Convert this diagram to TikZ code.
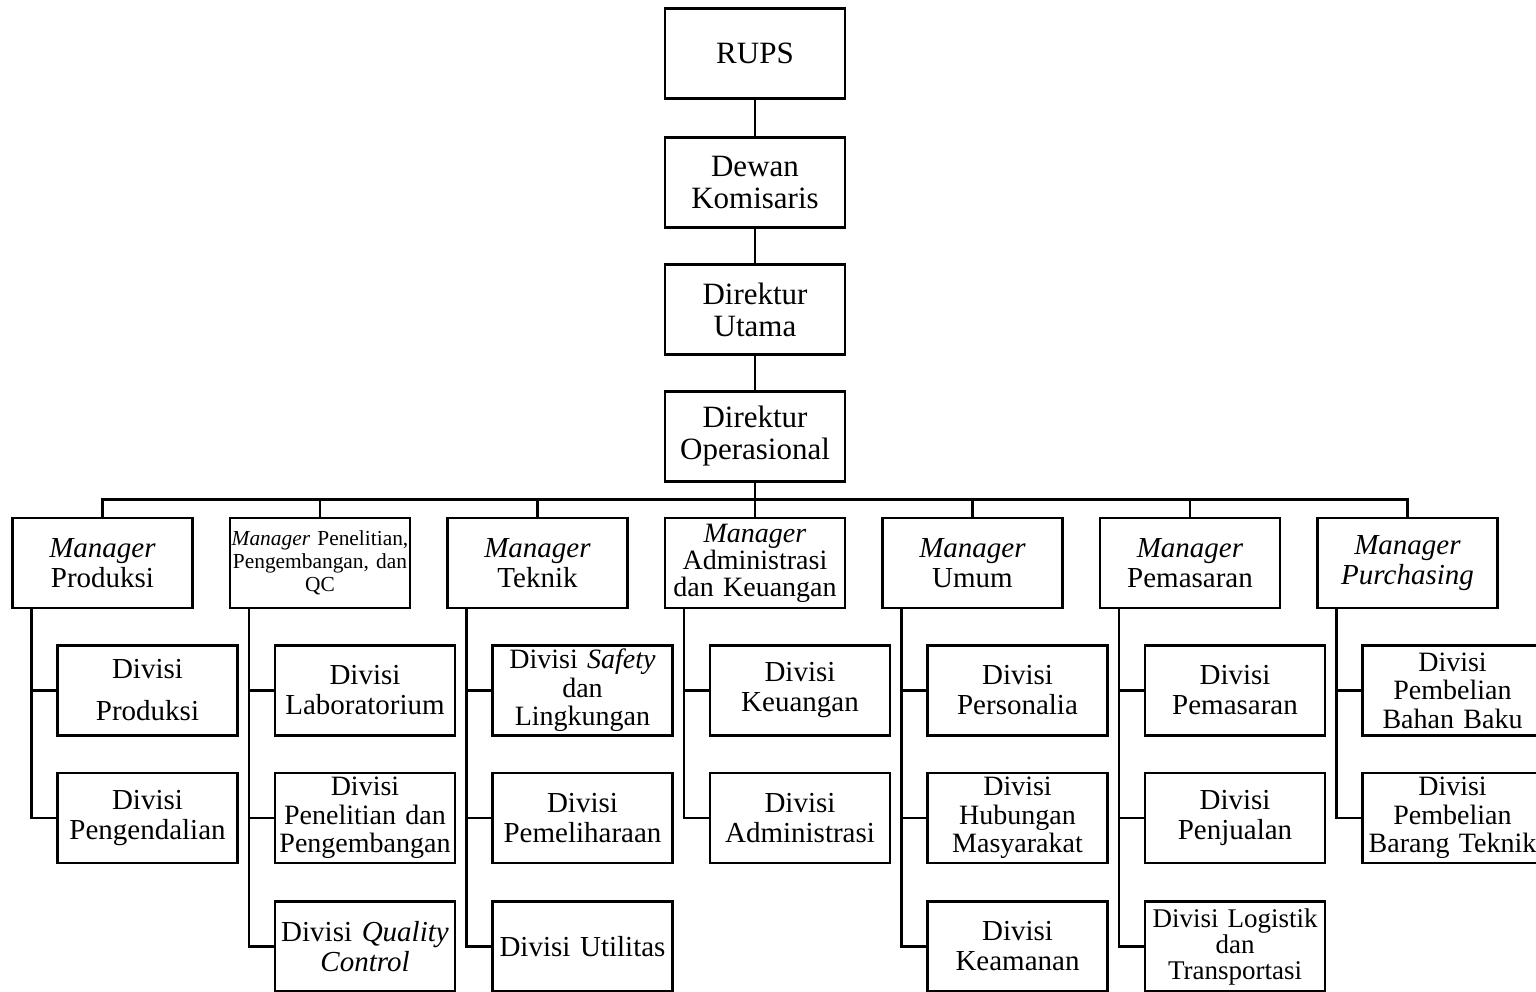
\documentclass[tikz,border=0pt]{standalone}
\usepackage{fontspec}
\setmainfont{Liberation Serif}
\usetikzlibrary{positioning}

\begin{document}
\begin{tikzpicture}[
    x=0.5pt, y=0.5pt,
    font=\fontsize{14.5}{15}\selectfont,
    bx/.style={draw, line width=1.4pt, minimum width=90pt, minimum height=45pt,
               text width=86pt, align=center, inner sep=1pt, outer sep=0pt},
    tp/.style={bx, font=\fontsize{15.5}{16}\selectfont},
    tri/.style={bx, font=\fontsize{14}{14.2}\selectfont},
    ln/.style={line width=1.4pt},
  ]
    \useasboundingbox (0,0) rectangle (1536,-991);

    % pimpinan
    \node[tp] (rups) at (755,-53.5) {RUPS};
    \node[tp, below=19.5pt of rups] (kom) {Dewan\\Komisaris};
    \node[tp, below=18.5pt of kom] (dirut) {Direktur\\Utama};
    \node[tp, below=18.5pt of dirut] (dirop) {Direktur\\Operasional};
    \draw[ln] (rups) -- (kom);
    \draw[ln] (kom) -- (dirut);
    \draw[ln] (dirut) -- (dirop);

    % manager
    \node[bx, below=18.25pt of dirop, font=\fontsize{14}{13.5}\selectfont] (mAdm) {\textit{Manager}\\Administrasi\\dan Keuangan};
    \node[bx, left=18.75pt of mAdm] (mTek) {\textit{Manager}\\Teknik};
    \node[bx, left=18.75pt of mTek, font=\fontsize{10.7}{11.5}\selectfont, text width=89pt, inner xsep=0pt] (mLit) {\textit{Manager} Penelitian,\\Pengembangan, dan\\QC};
    \node[bx, left=18.75pt of mLit] (mProd) {\textit{Manager}\\Produksi};
    \node[bx, right=18.75pt of mAdm] (mUmum) {\textit{Manager}\\Umum};
    \node[bx, right=18.75pt of mUmum] (mPms) {\textit{Manager}\\Pemasaran};
    \node[bx, right=18.75pt of mPms] (mPur) {\textit{Manager}\\\textit{Purchasing}};
    \draw[ln] (dirop.south) -- ++(0,-18) -| (mProd.north);
    \draw[ln] (dirop.south) -- ++(0,-18) -| (mLit.north);
    \draw[ln] (dirop.south) -- ++(0,-18) -| (mTek.north);
    \draw[ln] (dirop.south) -- (mAdm.north);
    \draw[ln] (dirop.south) -- ++(0,-18) -| (mUmum.north);
    \draw[ln] (dirop.south) -- ++(0,-18) -| (mPms.north);
    \draw[ln] (dirop.south) -- ++(0,-18) -| (mPur.north);

    % divisi produksi
    \node[bx, below right=18.75pt and 22.5pt of mProd.south west] (dProd) {Divisi\\[6pt]Produksi};
    \node[bx, below=18.75pt of dProd] (dDal) {Divisi\\Pengendalian};
    \draw[ln] ([xshift=9.5pt]mProd.south west) |- (dProd.west);
    \draw[ln] ([xshift=9.5pt]mProd.south west) |- (dDal.west);

    % divisi penelitian
    \node[bx, below right=18.75pt and 22.5pt of mLit.south west] (dLab) {Divisi\\Laboratorium};
    \node[tri, below=18.75pt of dLab] (dLit) {Divisi\\Penelitian dan\\Pengembangan};
    \node[bx, below=19.25pt of dLit] (dQC) {Divisi \textit{Quality}\\\textit{Control}};
    \draw[ln] ([xshift=9.5pt]mLit.south west) |- (dLab.west);
    \draw[ln] ([xshift=9.5pt]mLit.south west) |- (dLit.west);
    \draw[ln] ([xshift=9.5pt]mLit.south west) |- (dQC.west);

    % divisi teknik
    \node[tri, below right=18.75pt and 22.5pt of mTek.south west] (dSafe) {Divisi \textit{Safety}\\dan\\Lingkungan};
    \node[bx, below=18.75pt of dSafe] (dPel) {Divisi\\Pemeliharaan};
    \node[bx, below=19.25pt of dPel] (dUtl) {Divisi Utilitas};
    \draw[ln] ([xshift=9.5pt]mTek.south west) |- (dSafe.west);
    \draw[ln] ([xshift=9.5pt]mTek.south west) |- (dPel.west);
    \draw[ln] ([xshift=9.5pt]mTek.south west) |- (dUtl.west);

    % divisi administrasi
    \node[bx, below right=18.75pt and 22.5pt of mAdm.south west] (dKeu) {Divisi\\Keuangan};
    \node[bx, below=18.75pt of dKeu] (dAdm) {Divisi\\Administrasi};
    \draw[ln] ([xshift=9.5pt]mAdm.south west) |- (dKeu.west);
    \draw[ln] ([xshift=9.5pt]mAdm.south west) |- (dAdm.west);

    % divisi umum
    \node[bx, below right=18.75pt and 22.5pt of mUmum.south west] (dPers) {Divisi\\Personalia};
    \node[tri, below=18.75pt of dPers] (dHum) {Divisi\\Hubungan\\Masyarakat};
    \node[bx, below=19.25pt of dHum] (dAman) {Divisi\\Keamanan};
    \draw[ln] ([xshift=9.5pt]mUmum.south west) |- (dPers.west);
    \draw[ln] ([xshift=9.5pt]mUmum.south west) |- (dHum.west);
    \draw[ln] ([xshift=9.5pt]mUmum.south west) |- (dAman.west);

    % divisi pemasaran
    \node[bx, below right=18.75pt and 22.5pt of mPms.south west] (dPms) {Divisi\\Pemasaran};
    \node[bx, below=18.75pt of dPms] (dJual) {Divisi\\Penjualan};
    \node[bx, below=19.25pt of dJual, font=\fontsize{13.5}{13}\selectfont] (dLog) {Divisi Logistik\\dan\\Transportasi};
    \draw[ln] ([xshift=9.5pt]mPms.south west) |- (dPms.west);
    \draw[ln] ([xshift=9.5pt]mPms.south west) |- (dJual.west);
    \draw[ln] ([xshift=9.5pt]mPms.south west) |- (dLog.west);

    % divisi purchasing
    \node[tri, below right=18.75pt and 22.5pt of mPur.south west] (dBaku) {Divisi\\Pembelian\\Bahan Baku};
    \node[tri, below=18.75pt of dBaku] (dBrg) {Divisi\\Pembelian\\Barang Teknik};
    \draw[ln] ([xshift=9.5pt]mPur.south west) |- (dBaku.west);
    \draw[ln] ([xshift=9.5pt]mPur.south west) |- (dBrg.west);
  \end{tikzpicture}
\end{document}
